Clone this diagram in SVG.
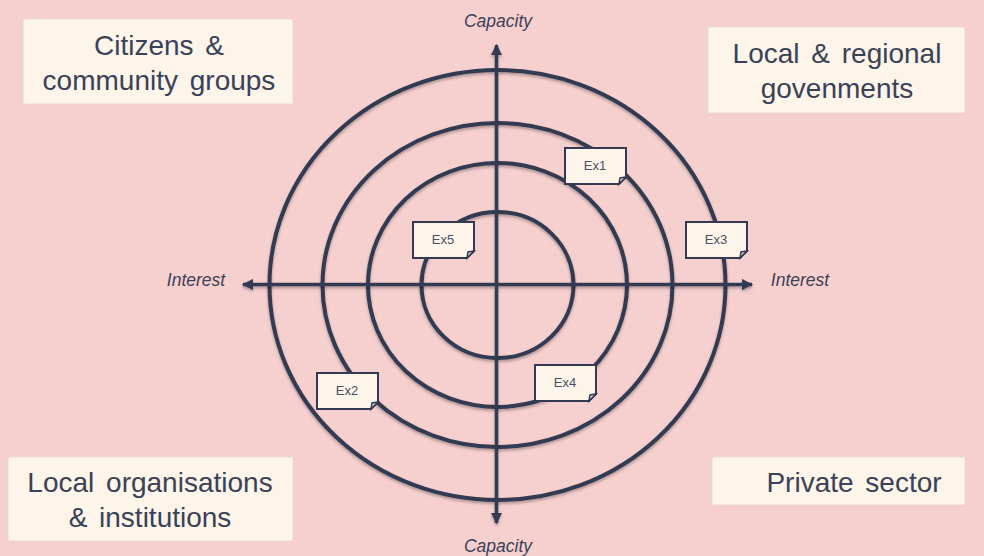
<svg xmlns="http://www.w3.org/2000/svg" width="984" height="556" viewBox="0 0 984 556">
<defs>
<style>
.ring{fill:none;stroke:#333a51;stroke-width:4}
.axis{stroke:#333a51;stroke-width:3.5;fill:none}
.box{fill:#fdf5ea;stroke:#ead8cc;stroke-width:1}
.big{font-family:"Liberation Sans",Arial,sans-serif;font-size:28px;fill:#3b4157;text-anchor:middle;word-spacing:4px}
.ax{font-family:"Liberation Sans",Arial,sans-serif;font-size:17.5px;font-style:italic;fill:#3b4157;text-anchor:middle}
.note{fill:#fdf5ea;stroke:#333a51;stroke-width:2}
.fold{fill:#e4d8cc;stroke:#333a51;stroke-width:1.5}
.ex{font-family:"Liberation Sans",Arial,sans-serif;font-size:13px;fill:#4a5063;text-anchor:middle}
</style>
<filter id="sh" x="-10%" y="-10%" width="120%" height="120%">
<feDropShadow dx="0" dy="2" stdDeviation="1.5" flood-color="#000" flood-opacity="0.3"/>
</filter>
<marker id="ah" viewBox="0 0 10 10" refX="9" refY="5" markerWidth="3.2" markerHeight="3.2" orient="auto-start-reverse" markerUnits="strokeWidth">
<path d="M0,0 L10,5 L0,10 z" fill="#333a51"/>
</marker>
</defs>
<rect width="984" height="556" fill="#f6d0cf"/>

<g id="rings" filter="url(#sh)">
<ellipse class="ring" cx="497.5" cy="285" rx="228" ry="215"/>
<ellipse class="ring" cx="497.5" cy="285" rx="175" ry="162"/>
<ellipse class="ring" cx="497.5" cy="285" rx="129.5" ry="122"/>
<ellipse class="ring" cx="497.5" cy="285" rx="76" ry="73"/>
</g>

<g id="connectors" filter="url(#sh)">
<line class="axis" x1="243" y1="284.5" x2="752" y2="284.5" marker-start="url(#ah)" marker-end="url(#ah)"/>
<line class="axis" x1="496.5" y1="45" x2="496.5" y2="523" marker-start="url(#ah)" marker-end="url(#ah)"/>
</g>

<text class="ax" x="498" y="27">Capacity</text>
<text class="ax" x="498" y="552">Capacity</text>
<text class="ax" x="196" y="286">Interest</text>
<text class="ax" x="800" y="286">Interest</text>

<g id="citizens">
<rect class="box" x="23" y="19" width="270" height="85"/>
<text class="big" x="159" y="55">Citizens &amp;</text>
<text class="big" x="159" y="90">community groups</text>
</g>
<g id="local-gov">
<rect class="box" x="708" y="27" width="257" height="86"/>
<text class="big" x="837" y="63">Local &amp; regional</text>
<text class="big" x="837" y="98">govenments</text>
</g>
<g id="local-org">
<rect class="box" x="8" y="457" width="285" height="84"/>
<text class="big" x="150" y="492">Local organisations</text>
<text class="big" x="150" y="527">&amp; institutions</text>
</g>
<g id="private">
<rect class="box" x="712" y="457" width="253" height="48"/>
<text class="big" x="854" y="492">Private sector</text>
</g>

<g id="ex1" transform="translate(565,148)">
<path class="note" d="M0,0 H61 V29 L54,36 H0 Z"/>
<path class="fold" d="M61,29 L55,30 L54,36 Z"/>
<text class="ex" x="30" y="22">Ex1</text>
</g>
<g id="ex2" transform="translate(317,373)">
<path class="note" d="M0,0 H61 V29 L54,36 H0 Z"/>
<path class="fold" d="M61,29 L55,30 L54,36 Z"/>
<text class="ex" x="30" y="22">Ex2</text>
</g>
<g id="ex3" transform="translate(686,222)">
<path class="note" d="M0,0 H61 V29 L54,36 H0 Z"/>
<path class="fold" d="M61,29 L55,30 L54,36 Z"/>
<text class="ex" x="30" y="22">Ex3</text>
</g>
<g id="ex4" transform="translate(535,365)">
<path class="note" d="M0,0 H61 V29 L54,36 H0 Z"/>
<path class="fold" d="M61,29 L55,30 L54,36 Z"/>
<text class="ex" x="30" y="22">Ex4</text>
</g>
<g id="ex5" transform="translate(413,222)">
<path class="note" d="M0,0 H61 V29 L54,36 H0 Z"/>
<path class="fold" d="M61,29 L55,30 L54,36 Z"/>
<text class="ex" x="30" y="22">Ex5</text>
</g>
</svg>
